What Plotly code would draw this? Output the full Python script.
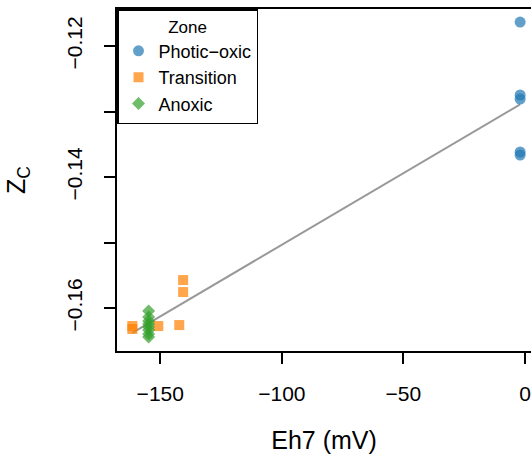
import numpy as np
import plotly.graph_objects as go

# Data
photic_x = [-2.0, -2.0, -2.0, -2.0, -2.0]
photic_y = [-0.11634, -0.12748, -0.12809, -0.13618, -0.13664]

trans_x = [-140.6, -140.6, -142.2, -161.5, -161.5, -150.8]
trans_y = [-0.15573, -0.15756, -0.16260, -0.16275, -0.16320, -0.16275]

anox_x = [-154.8] * 8
anox_y = [-0.16046, -0.16137, -0.16198, -0.16244, -0.16290, -0.16336, -0.16397, -0.16443]

ytick_vals = [-0.16, -0.15, -0.14, -0.13, -0.12]
ytick_text = ["\u22120.16", "", "\u22120.14", "", "\u22120.12"]
xtick_vals = [-150, -100, -50, 0]
xtick_text = ["\u2212150", "\u2212100", "\u221250", "0"]

all_x = np.array(photic_x + trans_x + anox_x)
all_y = np.array(photic_y + trans_y + anox_y)
slope, intercept = np.polyfit(all_x, all_y, 1)
fit_x = np.array([all_x.min(), all_x.max()])
fit_y = slope * fit_x + intercept

FONT = "Liberation Sans, Arial, sans-serif"

fig = go.Figure()
fig.add_trace(go.Scatter(x=fit_x, y=fit_y, mode="lines",
                         line=dict(color="#999999", width=2), showlegend=False,
                         hoverinfo="skip"))
fig.add_trace(go.Scatter(x=photic_x, y=photic_y, mode="markers", name="Photic\u2212oxic",
                         cliponaxis=False,
                         marker=dict(symbol="circle", size=11, color="#1F78B4", opacity=0.7,
                                     line=dict(width=0))))
fig.add_trace(go.Scatter(x=trans_x, y=trans_y, mode="markers", name="Transition",
                         cliponaxis=False,
                         marker=dict(symbol="square", size=10, color="#FF7F00", opacity=0.7,
                                     line=dict(width=0))))
fig.add_trace(go.Scatter(x=anox_x, y=anox_y, mode="markers", name="Anoxic",
                         cliponaxis=False,
                         marker=dict(symbol="diamond", size=10, color="#33A02C", opacity=0.7,
                                     line=dict(width=0))))

fig.update_layout(
    width=531, height=454,
    margin=dict(l=117, r=0, t=9, b=103, autoexpand=False),
    paper_bgcolor="white", plot_bgcolor="white",
    font=dict(family=FONT, size=21, color="black"),
    legend=dict(x=0, y=1, xanchor="left", yanchor="top",
                bgcolor="white", bordercolor="black", borderwidth=1.5,
                font=dict(size=18), title=dict(text="Zone", side="top center", font=dict(size=17)),
                itemwidth=30, tracegroupgap=0),
    xaxis=dict(range=[-167.8, 2.47], showgrid=False, zeroline=False, automargin=False,
               showline=True, mirror=True, linecolor="black", linewidth=1.5,
               ticks="outside", ticklen=11, tickwidth=1.5, tickcolor="black",
               tickvals=xtick_vals, ticktext=xtick_text, ticklabelstandoff=12,
               title=dict(text="Eh7 (mV)", standoff=28)),
    yaxis=dict(range=[-0.16656, -0.11435], showgrid=False, zeroline=False, automargin=False,
               showline=True, mirror=False, linecolor="black", linewidth=1.5,
               ticks="outside", ticklen=11, tickwidth=1.5, tickcolor="black",
               tickvals=ytick_vals, ticktext=ytick_text, tickangle=-90, ticklabelstandoff=14,
               title=dict(text="Z<sub>C</sub>", standoff=30)),
)

fig.write_html("out.html", config={"displayModeBar": False},
               post_script="document.body.style.margin='0';")
